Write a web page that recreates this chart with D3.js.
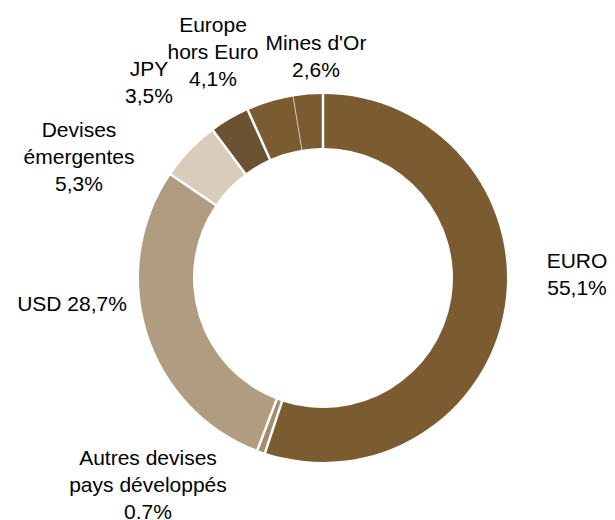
<!DOCTYPE html>
<html>
<head>
<meta charset="utf-8">
<script src="https://cdn.jsdelivr.net/npm/d3@7"></script>
<style>
  body { margin: 0; background: #fff; }
  text { font-family: "Liberation Sans", Arial, sans-serif; font-size: 21px; fill: #000; }
</style>
</head>
<body>
<div id="chart"></div>
<script>
// data, clockwise from 12 o'clock
const categories = ["EURO", "Autres devises pays développés", "USD", "Devises émergentes", "JPY", "Europe hors Euro", "Mines d'Or"];
const shares = [55.1, 0.7, 28.7, 5.3, 3.5, 4.1, 2.6];
const labelLines = [
  ["EURO", "55,1%"],
  ["Autres devises", "pays développés", "0.7%"],
  ["USD 28,7%"],
  ["Devises", "émergentes", "5,3%"],
  ["JPY", "3,5%"],
  ["Europe", "hors Euro", "4,1%"],
  ["Mines d'Or", "2,6%"]
];

const colors = ["#7b5c30", "#a48c6c", "#b09c80", "#d8cdbd", "#6b5232", "#7b5c30", "#7b5c30"];
// label anchor (center x, first baseline y)
const labelPos = [[577, 268], [148, 465], [72, 311], [79, 137], [149, 76], [213, 32], [316, 50]];
// width of the gap after each slice
const gapAfter = [2.5, 2.5, 2.5, 2.5, 2.5, 0.8, 2.5];

const width = 615, height = 520;
const cx = 323, cy = 278;
const outerR = 184, innerR = 130;
const lineH = 27;

const svg = d3.select("#chart").append("svg")
  .attr("width", width)
  .attr("height", height);

const g = svg.append("g").attr("transform", `translate(${cx},${cy})`);

const pie = d3.pie().sort(null).value(d => d);
const arcs = pie(shares);
const arc = d3.arc().innerRadius(innerR).outerRadius(outerR);

g.selectAll("path.slice")
  .data(arcs)
  .enter()
  .append("path")
  .attr("class", "slice")
  .attr("d", arc)
  .attr("fill", (d, i) => colors[i]);

// white separators at slice boundaries
g.selectAll("line.sep")
  .data(arcs)
  .enter()
  .append("line")
  .attr("class", "sep")
  .attr("x1", d => Math.sin(d.endAngle) * (innerR - 1))
  .attr("y1", d => -Math.cos(d.endAngle) * (innerR - 1))
  .attr("x2", d => Math.sin(d.endAngle) * (outerR + 1))
  .attr("y2", d => -Math.cos(d.endAngle) * (outerR + 1))
  .attr("stroke", (d, i) => gapAfter[i] < 1 ? "#e6ddd0" : "#fff")
  .attr("stroke-width", (d, i) => gapAfter[i]);

const labels = svg.selectAll("text.label")
  .data(labelLines)
  .enter()
  .append("text")
  .attr("class", "label")
  .attr("text-anchor", "middle")
  .attr("x", (d, i) => labelPos[i][0])
  .attr("y", (d, i) => labelPos[i][1]);

labels.each(function (lines, i) {
  d3.select(this).selectAll("tspan")
    .data(lines)
    .enter()
    .append("tspan")
    .attr("x", labelPos[i][0])
    .attr("dy", (l, j) => j === 0 ? 0 : lineH)
    .text(l => l);
});
</script>
</body>
</html>
